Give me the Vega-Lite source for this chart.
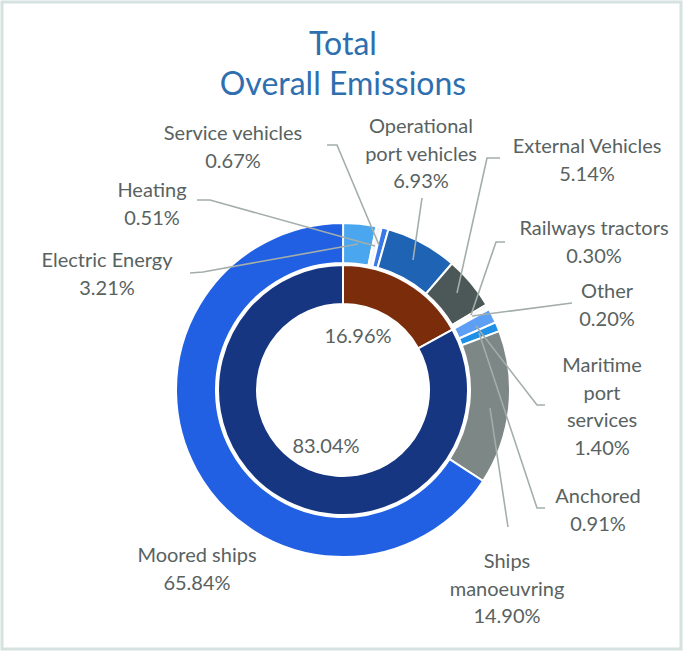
{
  "$schema": "https://vega.github.io/schema/vega-lite/v6.json",
  "width": 685,
  "height": 654,
  "autosize": {"type": "fit", "contains": "padding"},
  "padding": {"left": 2, "top": 2, "right": 4, "bottom": 5},
  "background": "white",
  "config": {"view": {"stroke": "#d6e2df", "strokeWidth": 3}},
  "datasets": {
    "segments": [
      {"ring": "outer", "idx": 1, "category": "Electric Energy", "value": 3.21},
      {"ring": "outer", "idx": 2, "category": "Heating", "value": 0.51},
      {"ring": "outer", "idx": 3, "category": "Service vehicles", "value": 0.67},
      {"ring": "outer", "idx": 4, "category": "Operational port vehicles", "value": 6.93},
      {"ring": "outer", "idx": 5, "category": "External Vehicles", "value": 5.14},
      {"ring": "outer", "idx": 6, "category": "Railways tractors", "value": 0.30},
      {"ring": "outer", "idx": 7, "category": "Other", "value": 0.20},
      {"ring": "outer", "idx": 8, "category": "Maritime port services", "value": 1.40},
      {"ring": "outer", "idx": 9, "category": "Anchored", "value": 0.91},
      {"ring": "outer", "idx": 10, "category": "Ships manoeuvring", "value": 14.90},
      {"ring": "outer", "idx": 11, "category": "Moored ships", "value": 65.84},
      {"ring": "inner", "idx": 1, "category": "Land-side activities", "value": 16.96},
      {"ring": "inner", "idx": 2, "category": "Ships", "value": 83.04}
    ],
    "labels": [
      {"label": "Service vehicles\n0.67%", "lx": -1.10, "ly": 2.50},
      {"label": "Heating\n0.51%", "lx": -1.91, "ly": 1.93},
      {"label": "Electric Energy\n3.21%", "lx": -2.36, "ly": 1.23},
      {"label": "Operational\nport vehicles\n6.93%", "lx": 0.78, "ly": 2.57},
      {"label": "External Vehicles\n5.14%", "lx": 2.44, "ly": 2.37},
      {"label": "Railways tractors\n0.30%", "lx": 2.51, "ly": 1.55},
      {"label": "Other\n0.20%", "lx": 2.64, "ly": 0.92},
      {"label": "Maritime\nport\nservices\n1.40%", "lx": 2.59, "ly": 0.18},
      {"label": "Anchored\n0.91%", "lx": 2.55, "ly": -1.13},
      {"label": "Ships\nmanoeuvring\n14.90%", "lx": 1.64, "ly": -1.78},
      {"label": "Moored ships\n65.84%", "lx": -1.46, "ly": -1.72},
      {"label": "16.96%", "lx": 0.15, "ly": 0.47},
      {"label": "83.04%", "lx": -0.17, "ly": -0.63}
    ],
    "leaders": [
      {"id": "Service vehicles", "seq": 1, "lx": -0.16, "ly": 2.45},
      {"id": "Service vehicles", "seq": 2, "lx": -0.06, "ly": 2.45},
      {"id": "Service vehicles", "seq": 3, "lx": 0.36, "ly": 1.45},
      {"id": "Heating", "seq": 1, "lx": -1.46, "ly": 1.90},
      {"id": "Heating", "seq": 2, "lx": -1.33, "ly": 1.90},
      {"id": "Heating", "seq": 3, "lx": 0.32, "ly": 1.44},
      {"id": "Electric Energy", "seq": 1, "lx": -1.53, "ly": 1.17},
      {"id": "Electric Energy", "seq": 2, "lx": -1.40, "ly": 1.18},
      {"id": "Electric Energy", "seq": 3, "lx": 0.15, "ly": 1.46},
      {"id": "Operational port vehicles", "seq": 1, "lx": 0.79, "ly": 1.92},
      {"id": "Operational port vehicles", "seq": 2, "lx": 0.70, "ly": 1.30},
      {"id": "External Vehicles", "seq": 1, "lx": 1.57, "ly": 2.32},
      {"id": "External Vehicles", "seq": 2, "lx": 1.44, "ly": 2.32},
      {"id": "External Vehicles", "seq": 3, "lx": 1.14, "ly": 0.97},
      {"id": "Railways tractors", "seq": 1, "lx": 1.62, "ly": 1.48},
      {"id": "Railways tractors", "seq": 2, "lx": 1.53, "ly": 1.48},
      {"id": "Railways tractors", "seq": 3, "lx": 1.28, "ly": 0.75},
      {"id": "Other", "seq": 1, "lx": 2.29, "ly": 0.87},
      {"id": "Other", "seq": 2, "lx": 1.29, "ly": 0.74},
      {"id": "Maritime port services", "seq": 1, "lx": 2.02, "ly": -0.15},
      {"id": "Maritime port services", "seq": 2, "lx": 1.94, "ly": -0.15},
      {"id": "Maritime port services", "seq": 3, "lx": 1.33, "ly": 0.64},
      {"id": "Anchored", "seq": 1, "lx": 2.02, "ly": -1.18},
      {"id": "Anchored", "seq": 2, "lx": 1.94, "ly": -1.18},
      {"id": "Anchored", "seq": 3, "lx": 1.36, "ly": 0.57},
      {"id": "Ships manoeuvring", "seq": 1, "lx": 1.65, "ly": -1.37},
      {"id": "Ships manoeuvring", "seq": 2, "lx": 1.47, "ly": -0.18}
    ]
  },
  "encoding": {
    "x": {"scale": {"domain": [-3.41, 3.38], "nice": false, "zero": false}, "axis": null},
    "y": {"scale": {"domain": [-2.59, 3.88], "nice": false, "zero": false}, "axis": null}
  },
  "layer": [
    {
      "data": {"name": "segments"},
      "transform": [{"filter": "datum.ring === 'outer'"}],
      "mark": {"type": "arc", "outerRadius": 167, "innerRadius": 127, "stroke": "white", "strokeWidth": 2},
      "encoding": {
        "x": {"datum": 0, "type": "quantitative", "axis": null},
        "y": {"datum": 0, "type": "quantitative", "axis": null},
        "theta": {"field": "value", "type": "quantitative", "stack": true, "scale": {"domain": [0, 100]}},
        "order": {"field": "idx", "type": "quantitative"},
        "color": {
          "field": "category", "type": "nominal", "legend": null,
          "scale": {
            "domain": ["Electric Energy", "Heating", "Service vehicles", "Operational port vehicles", "External Vehicles", "Railways tractors", "Other", "Maritime port services", "Anchored", "Ships manoeuvring", "Moored ships", "Land-side activities", "Ships"],
            "range": ["#4aa6ef", "#f3f6fa", "#3a78e8", "#1f63b5", "#4c5857", "#f1f1f1", "#e6ecf5", "#5d9ff5", "#1e90e8", "#7d8785", "#2160e3", "#7b2c0a", "#173682"]
          }
        }
      }
    },
    {
      "data": {"name": "segments"},
      "transform": [{"filter": "datum.ring === 'inner'"}],
      "mark": {"type": "arc", "outerRadius": 125, "innerRadius": 86, "stroke": "white", "strokeWidth": 2},
      "encoding": {
        "x": {"datum": 0, "type": "quantitative", "axis": null},
        "y": {"datum": 0, "type": "quantitative", "axis": null},
        "theta": {"field": "value", "type": "quantitative", "stack": true, "scale": {"domain": [0, 100]}},
        "order": {"field": "idx", "type": "quantitative"},
        "color": {"field": "category", "type": "nominal", "legend": null}
      }
    },
    {
      "data": {"name": "leaders"},
      "mark": {"type": "line", "color": "#a3aeab", "strokeWidth": 1.6, "interpolate": "linear"},
      "encoding": {
        "x": {"field": "lx", "type": "quantitative", "axis": null},
        "y": {"field": "ly", "type": "quantitative", "axis": null},
        "detail": {"field": "id"},
        "order": {"field": "seq", "type": "quantitative"}
      }
    },
    {
      "data": {"name": "labels"},
      "mark": {"type": "text", "font": "Lato", "fontSize": 20, "color": "#58625f", "align": "center", "baseline": "alphabetic", "lineBreak": "\n", "lineHeight": 27.5},
      "encoding": {
        "x": {"field": "lx", "type": "quantitative", "axis": null},
        "y": {"field": "ly", "type": "quantitative", "axis": null},
        "text": {"field": "label"}
      }
    },
    {
      "data": {"values": [{"title": "Total\nOverall Emissions"}]},
      "mark": {"type": "text", "font": "Lato", "fontSize": 32, "color": "#2e6fb0", "align": "center", "baseline": "alphabetic", "lineBreak": "\n", "lineHeight": 40},
      "encoding": {
        "x": {"datum": 0, "type": "quantitative", "axis": null},
        "y": {"datum": 3.35, "type": "quantitative", "axis": null},
        "text": {"field": "title"}
      }
    }
  ],
  "resolve": {"scale": {"theta": "independent"}}
}
